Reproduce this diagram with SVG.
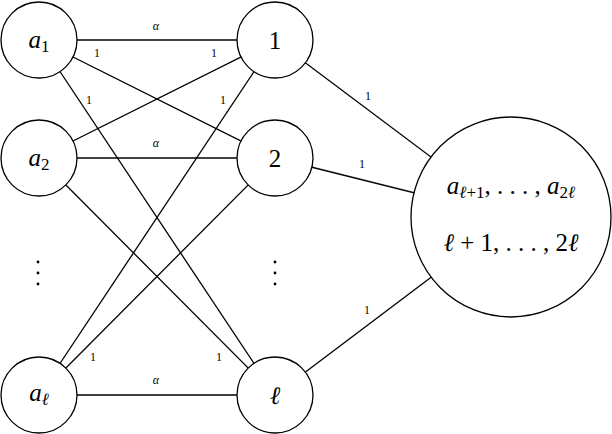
<svg xmlns="http://www.w3.org/2000/svg" width="612" height="434" viewBox="0 0 612 434">
<style>
.e{stroke:#000;stroke-width:1.3;fill:none}
.n{stroke:#000;stroke-width:1.3;fill:#fff}
text{font-family:'Liberation Serif','DejaVu Serif',serif;fill:#000}
.lab{font-size:25px;text-anchor:middle}
.i{font-style:italic}
.s{font-size:12px;text-anchor:middle}
.big{font-size:25px;text-anchor:middle}
</style>
<rect width="612" height="434" fill="#fff"/>
<g id="connectors">
<line class="e" x1="39" y1="40" x2="275" y2="40"/>
<line class="e" x1="39" y1="40" x2="275" y2="158"/>
<line class="e" x1="39" y1="40" x2="275" y2="395"/>
<line class="e" x1="39" y1="158" x2="275" y2="40"/>
<line class="e" x1="39" y1="158" x2="275" y2="158"/>
<line class="e" x1="39" y1="158" x2="275" y2="395"/>
<line class="e" x1="39" y1="395" x2="275" y2="40"/>
<line class="e" x1="39" y1="395" x2="275" y2="158"/>
<line class="e" x1="39" y1="395" x2="275" y2="395"/>
<line class="e" x1="275" y1="40" x2="511" y2="217"/>
<line class="e" x1="275" y1="158" x2="511" y2="217"/>
<line class="e" x1="275" y1="395" x2="511" y2="217"/>
<g>
<text class="s i" x="156" y="30">α</text>
<text class="s i" x="156" y="147">α</text>
<text class="s i" x="156" y="384">α</text>
<text class="s" x="97" y="57">1</text>
<text class="s" x="214" y="57">1</text>
<text class="s" x="89" y="104">1</text>
<text class="s" x="223" y="104">1</text>
<text class="s" x="93" y="361">1</text>
<text class="s" x="219" y="361">1</text>
<text class="s" x="368" y="100">1</text>
<text class="s" x="362" y="168">1</text>
<text class="s" x="367" y="314">1</text>
</g>
</g>
<g id="node-a1"><circle class="n" cx="39" cy="40" r="38"/><text class="lab" x="39" y="48"><tspan class="i">a</tspan><tspan font-size="17" dy="4">1</tspan></text></g>
<g id="node-a2"><circle class="n" cx="39" cy="158" r="38"/><text class="lab" x="39" y="166"><tspan class="i">a</tspan><tspan font-size="17" dy="4">2</tspan></text></g>
<g id="node-al"><circle class="n" cx="39" cy="395" r="38"/><text class="lab" x="39" y="401"><tspan class="i">a</tspan><tspan class="i" font-size="17" dy="4">ℓ</tspan></text></g>
<g id="node-1"><circle class="n" cx="275" cy="40" r="38"/><text class="lab" x="275" y="49" font-size="27">1</text></g>
<g id="node-2"><circle class="n" cx="275" cy="158" r="38"/><text class="lab" x="275" y="167" font-size="27">2</text></g>
<g id="node-l"><circle class="n" cx="275" cy="395" r="38"/><text class="lab i" x="275" y="404">ℓ</text></g>
<g id="node-big"><circle class="n" cx="511" cy="217" r="100"/>
<text class="big" x="511" y="194"><tspan class="i">a</tspan><tspan class="i" font-size="17" dy="4">ℓ</tspan><tspan font-size="17">+1</tspan><tspan dy="-4">, . . . , </tspan><tspan class="i">a</tspan><tspan font-size="17" dy="4">2</tspan><tspan class="i" font-size="17">ℓ</tspan></text>
<text class="big" x="511" y="251"><tspan class="i">ℓ</tspan> + 1, . . . , 2<tspan class="i">ℓ</tspan></text>
</g>
<g id="dots">
<circle cx="38" cy="262" r="1.4"/><circle cx="38" cy="273" r="1.4"/><circle cx="38" cy="284" r="1.4"/>
<circle cx="275" cy="262" r="1.4"/><circle cx="275" cy="273" r="1.4"/><circle cx="275" cy="284" r="1.4"/>
</g>
</svg>
